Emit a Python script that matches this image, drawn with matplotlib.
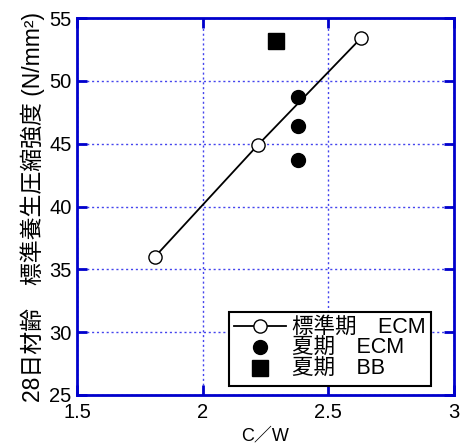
import numpy as np
import matplotlib
matplotlib.use("Agg")
import matplotlib.pyplot as plt

plt.rcParams["font.family"] = ["Liberation Sans", "Noto Sans CJK JP", "DejaVu Sans"]

# データ
std_cw = [1.81, 2.22, 2.63]
std_fc = [36.0, 44.9, 53.4]
summer_ecm_cw = [2.38, 2.38, 2.38]
summer_ecm_fc = [48.7, 46.4, 43.7]
summer_bb_cw = [2.29]
summer_bb_fc = [53.2]

labels = ["標準期　ECM", "夏期　ECM", "夏期　BB"]

blue = "#0000cc"

fig = plt.figure(figsize=(4.62, 4.47), dpi=100)
ax = fig.add_axes([77 / 462, 1 - 395 / 447, 377 / 462, 377 / 447])

ax.plot(std_cw, std_fc, "-o", color="black", mfc="white", mec="black",
        ms=9.5, lw=1.3, mew=1.0, label=labels[0], zorder=3)
ax.plot(summer_ecm_cw, summer_ecm_fc, "o", color="black", ms=10,
        ls="none", label=labels[1], zorder=3)
ax.plot(summer_bb_cw, summer_bb_fc, "s", color="black", ms=11.5,
        ls="none", label=labels[2], zorder=3)

ax.set_xlim(1.5, 3)
ax.set_ylim(25, 55)
ax.set_xticks([1.5, 2, 2.5, 3])
ax.set_xticklabels(["1.5", "2", "2.5", "3"])
ax.set_yticks(np.arange(25, 56, 5))

ax.grid(True, color="#4444ee", linestyle=(0, (1.5, 2)), linewidth=1.0)
ax.set_axisbelow(True)
for s in ax.spines.values():
    s.set_color(blue)
    s.set_linewidth(2)
ax.tick_params(direction="in", length=7, width=2, color=blue,
               top=True, right=True, labelsize=14.5, pad=4)
ax.tick_params(axis="x", pad=6)

ax.set_xlabel("C／W", fontsize=13, labelpad=4)
ax.set_ylabel("28日材齢　標準養生圧縮強度 (N/mm²)", fontsize=16.5, labelpad=3)

leg = ax.legend(loc="lower right", bbox_to_anchor=(0.94, 0.025),
                fontsize=15.5, frameon=True, fancybox=False,
                borderpad=0.25, handlelength=2.4, handletextpad=0.3,
                labelspacing=0.0, borderaxespad=0)
leg.get_frame().set_edgecolor("black")
leg.get_frame().set_linewidth(1.5)
leg.get_frame().set_alpha(1)

plt.savefig("out.png", dpi=100)
